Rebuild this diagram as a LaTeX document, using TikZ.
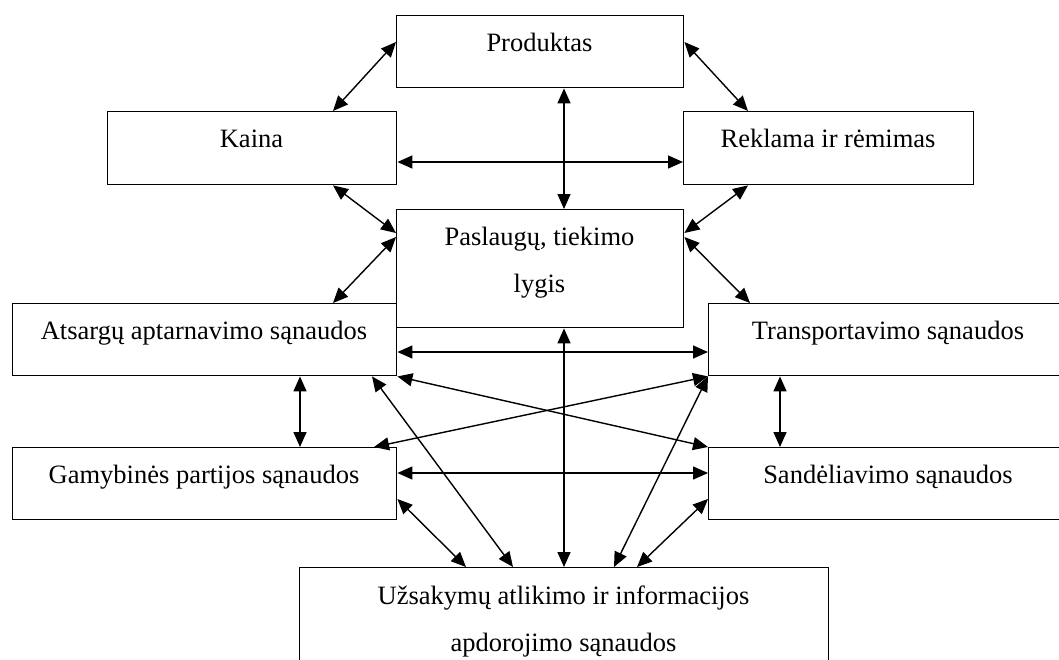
\documentclass[tikz,border=0pt]{standalone}
\usepackage{fontspec}
\setmainfont{Liberation Serif}
\usetikzlibrary{arrows.meta,calc}
\begin{document}
\begin{tikzpicture}[x=1pt,y=-1pt,
  box/.style={draw,line width=1.4pt,inner sep=0pt,anchor=north west},
  txt/.style={anchor=base,inner sep=0pt,font=\fontsize{26.5}{32}\selectfont},
  link/.style={line width=1.4pt,{Triangle[length=15pt,width=13pt]}-{Triangle[length=15pt,width=13pt]}}]
\useasboundingbox (0,0) rectangle (1059,659);
% boxes
\node[box,minimum width=287pt,minimum height=72pt] (prod) at (396,15) {};
\node[box,minimum width=289pt,minimum height=73pt] (kaina) at (107,111) {};
\node[box,minimum width=290pt,minimum height=73pt] (rekl) at (683,111) {};
\node[box,minimum width=287pt,minimum height=118pt] (pasl) at (396,209) {};
\node[box,minimum width=384pt,minimum height=72pt] (ats) at (12,303) {};
\node[box,minimum width=360pt,minimum height=72pt] (trans) at (708,303) {};
\node[box,minimum width=384pt,minimum height=72pt] (gam) at (12,447) {};
\node[box,minimum width=360pt,minimum height=72pt] (sand) at (708,447) {};
\node[box,minimum width=529pt,minimum height=130pt] (uzs) at (299,567) {};
% texts
\node[txt] (prodT) at (539.5,51) {Produktas};
\node[txt] (kainaT) at (251.5,147) {Kaina};
\node[txt] (reklT) at (828,147) {Reklama ir rėmimas};
\node[txt] (paslT1) at (539.5,245) {Paslaugų, tiekimo};
\node[txt] (paslT2) at (539.5,292) {lygis};
\node[txt] (atsT) at (204,339) {Atsargų aptarnavimo sąnaudos};
\node[txt] (transT) at (888,339) {Transportavimo sąnaudos};
\node[txt] (gamT) at (204,483) {Gamybinės partijos sąnaudos};
\node[txt] (sandT) at (888,483) {Sandėliavimo sąnaudos};
\node[txt] (uzsT1) at (563.5,604) {Užsakymų atlikimo ir informacijos};
\node[txt] (uzsT2) at (563.5,651) {apdorojimo sąnaudos};
% connectors
\draw[link] ($(prod.north west)+(0,27)$) -- ($(kaina.north west)+(226,0)$);
\draw[link] ($(prod.north east)+(0,27)$) -- ($(rekl.north west)+(65,0)$);
\draw[link] ($(prod.south west)+(168,0)$) -- ($(pasl.north west)+(168,0)$);
\draw[link] ($(kaina.north east)+(0,51)$) -- ($(rekl.north west)+(0,51)$);
\draw[link] ($(kaina.south west)+(226,0)$) -- ($(pasl.north west)+(0,24)$);
\draw[link] ($(pasl.north west)+(0,28)$) -- ($(ats.north west)+(321,0)$);
\draw[link] ($(rekl.south west)+(65,0)$) -- ($(pasl.north east)+(0,24)$);
\draw[link] ($(pasl.north east)+(0,28)$) -- ($(trans.north west)+(42,0)$);
\draw[link] ($(ats.north east)+(0,49)$) -- ($(trans.north west)+(0,49)$);
\draw[link] ($(pasl.south west)+(168,0)$) -- ($(uzs.north west)+(265,0)$);
\draw[link] (ats.south east) -- (sand.north west);
\draw[link] (trans.south west) -- ($(gam.north west)+(362,0)$);
\draw[link] ($(ats.south west)+(288,0)$) -- ($(gam.north west)+(288,0)$);
\draw[link] ($(trans.south west)+(72,0)$) -- ($(sand.north west)+(72,0)$);
\draw[link] ($(gam.north east)+(0,26)$) -- ($(sand.north west)+(0,26)$);
\draw[link] ($(ats.south west)+(360,0)$) -- ($(uzs.north west)+(214,0)$);
\draw[link] ($(gam.north east)+(0,52)$) -- ($(uzs.north west)+(167,0)$);
\draw[link] (trans.south west) -- ($(uzs.north west)+(315,0)$);
\draw[link] ($(sand.north west)+(0,52)$) -- ($(uzs.north west)+(338,0)$);
\end{tikzpicture}
\end{document}
